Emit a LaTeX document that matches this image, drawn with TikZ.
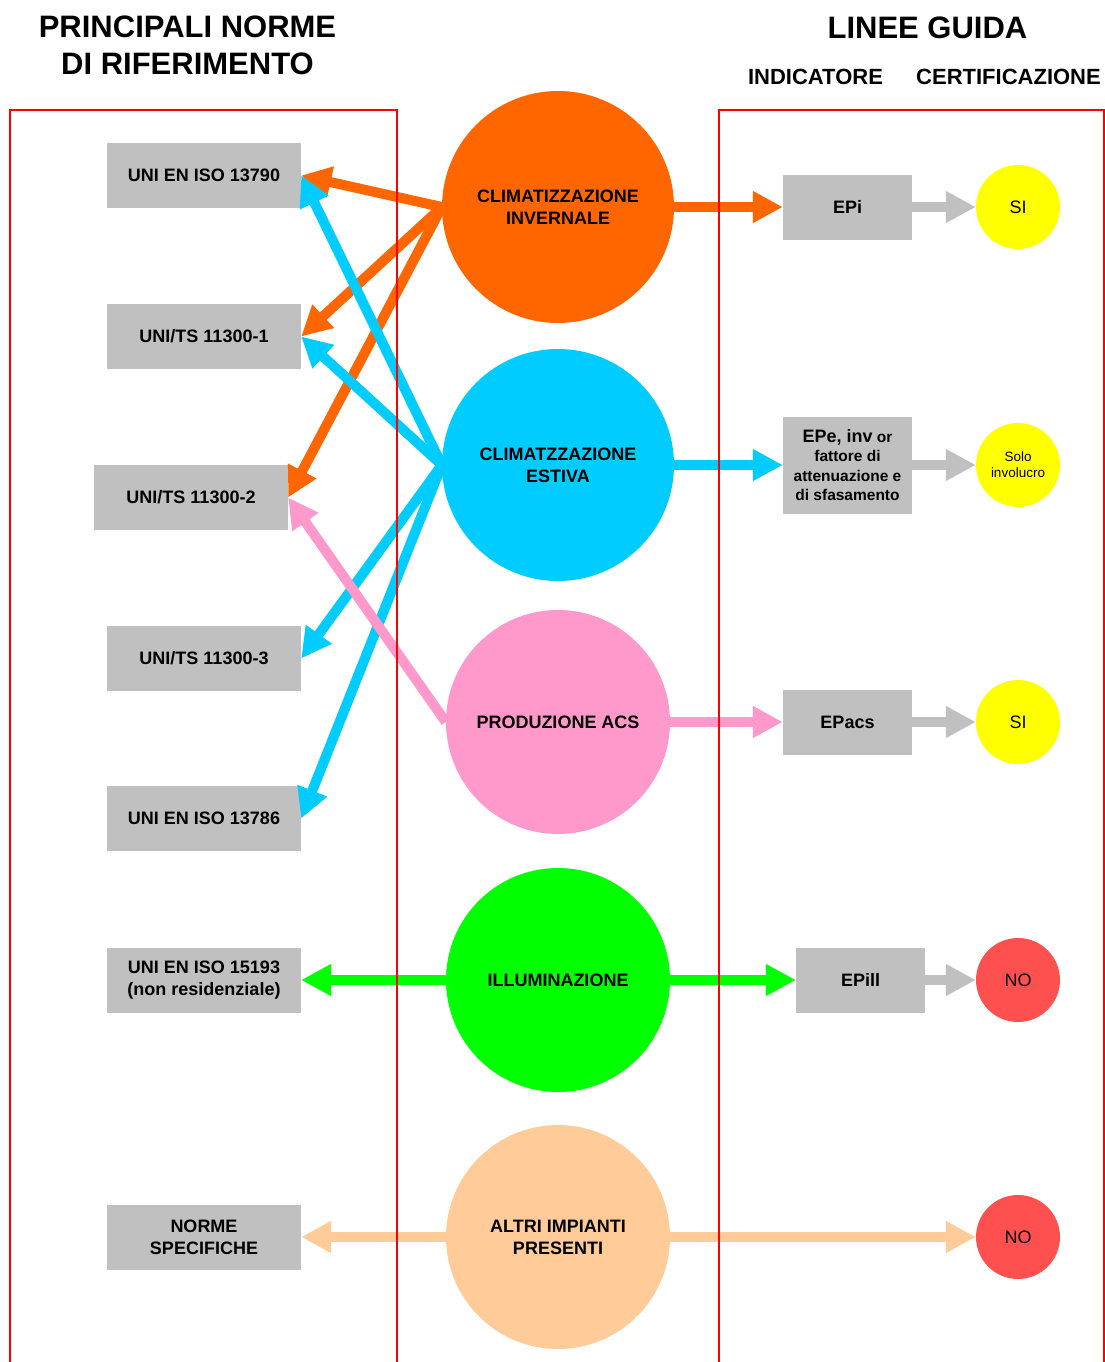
\documentclass[tikz,border=0pt]{standalone}
\usepackage{fontspec}
\setmainfont{Liberation Sans}
\usetikzlibrary{arrows.meta}
\definecolor{corange}{HTML}{FF6600}
\definecolor{ccyan}{HTML}{00CCFF}
\definecolor{cpink}{HTML}{FF99CC}
\definecolor{cgreen}{HTML}{00FF00}
\definecolor{cpeach}{HTML}{FFCC99}
\definecolor{cgray}{HTML}{C0C0C0}
\definecolor{cyellow}{HTML}{FFFF00}
\definecolor{cno}{HTML}{FF5050}
\definecolor{cframe}{HTML}{FF0000}
\begin{document}
\begin{tikzpicture}[x=1pt,y=-1pt,
  normbox/.style={fill=cgray,minimum width=194pt,minimum height=65pt,inner sep=0pt,align=center,
    font=\bfseries\fontsize{18}{22}\selectfont},
  indbox/.style={fill=cgray,minimum width=129pt,minimum height=65pt,inner sep=0pt,align=center,
    font=\bfseries\fontsize{18}{22}\selectfont},
  bigcirc/.style={circle,fill=#1,inner sep=0pt,align=center,font=\bfseries\fontsize{18}{22}\selectfont},
  rescirc/.style={circle,fill=#1,minimum size=84pt,inner sep=0pt,align=center,font=\fontsize{18}{22}\selectfont},
  conn/.style={draw=#1,line width=10pt,-{Triangle[length=30pt,width=30pt]}},
  frameline/.style={draw=cframe,line width=2pt},
  title/.style={font=\bfseries\fontsize{31}{37}\selectfont,align=center,inner sep=0pt},
  subtitle/.style={font=\bfseries\fontsize{22}{26}\selectfont,inner sep=0pt}
]
\useasboundingbox (0,0) rectangle (1105,1362);
% titles
\node[title] (t1) at (187.5,45) {PRINCIPALI NORME\\DI RIFERIMENTO};
\node[title] (t2) at (927.5,28) {LINEE GUIDA};
\node[subtitle] (t3) at (815.5,77) {INDICATORE};
\node[subtitle] (t4) at (1008.5,77) {CERTIFICAZIONE};
% circles
\node[bigcirc=corange,minimum size=232pt] (c1) at (558,207) {CLIMATIZZAZIONE\\INVERNALE};
\node[bigcirc=ccyan,minimum size=232pt] (c2) at (558,465) {CLIMATZZAZIONE\\ESTIVA};
\node[bigcirc=cpink,minimum size=224pt] (c3) at (558,722) {PRODUZIONE ACS};
\node[bigcirc=cgreen,minimum size=224pt] (c4) at (558,980) {ILLUMINAZIONE};
\node[bigcirc=cpeach,minimum size=224pt] (c5) at (558,1237) {ALTRI IMPIANTI\\PRESENTI};
% left boxes
\node[normbox] (b1) at (204,175.5) {UNI EN ISO 13790};
\node[normbox] (b2) at (204,336.5) {UNI/TS 11300-1};
\node[normbox] (b3) at (191,497.5) {UNI/TS 11300-2};
\node[normbox] (b4) at (204,658.5) {UNI/TS 11300-3};
\node[normbox] (b5) at (204,818.5) {UNI EN ISO 13786};
\node[normbox] (b6) at (204,980) {UNI EN ISO 15193\\(non residenziale)};
\node[normbox] (b7) at (204,1237) {NORME\\SPECIFICHE};
% right boxes
\node[indbox] (r1) at (847.5,207) {EPi};
\node[indbox,minimum height=97pt,font=\bfseries\fontsize{15.5}{19.5}\selectfont] (r2) at (847.5,465)
  {{\fontsize{18}{19.5}\selectfont EPe, inv} or\\fattore di\\attenuazione e\\di sfasamento};
\node[indbox] (r3) at (847.5,722) {EPacs};
\node[indbox] (r4) at (860.5,980) {EPill};
% result circles
\node[rescirc=cyellow] (s1) at (1018,207) {SI};
\node[rescirc=cyellow,font=\fontsize{13.5}{16}\selectfont] (s2) at (1018,465) {Solo\\involucro};
\node[rescirc=cyellow] (s3) at (1018,722) {SI};
\node[rescirc=cno] (s4) at (1018,980) {NO};
\node[rescirc=cno] (s5) at (1018,1237) {NO};
% connectors left
\draw[conn=corange] (c1.west) -- (b1.east);
\draw[conn=corange] (c1.west) -- (b2.east);
\draw[conn=corange] (c1.west) -- (b3.east);
\draw[conn=ccyan] (c2.west) -- (b1.east);
\draw[conn=ccyan] (c2.west) -- (b2.east);
\draw[conn=ccyan] (c2.west) -- (b4.east);
\draw[conn=ccyan] (c2.west) -- (b5.east);
\draw[conn=cpink] (c3.west) -- (b3.east);
\draw[conn=cgreen] (c4.west) -- (b6.east);
\draw[conn=cpeach] (c5.west) -- (b7.east);
% connectors right
\draw[conn=corange] (c1.east) -- (r1.west);
\draw[conn=ccyan] (c2.east) -- (r2.west);
\draw[conn=cpink] (c3.east) -- (r3.west);
\draw[conn=cgreen] (c4.east) -- (r4.west);
\draw[conn=cpeach] (c5.east) -- (s5.west);
\draw[conn=cgray] (r1.east) -- (s1.west);
\draw[conn=cgray] (r2.east) -- (s2.west);
\draw[conn=cgray] (r3.east) -- (s3.west);
\draw[conn=cgray] (r4.east) -- (s4.west);
% frames
\coordinate (fl1) at (10,1366);
\coordinate (fl2) at (397,1366);
\coordinate (fr1) at (719,1366);
\coordinate (fr2) at (1104,1366);
\draw[frameline] (fl1) -- (10,110) -- (397,110) -- (fl2);
\draw[frameline] (fr1) -- (719,110) -- (1104,110) -- (fr2);
\end{tikzpicture}
\end{document}
